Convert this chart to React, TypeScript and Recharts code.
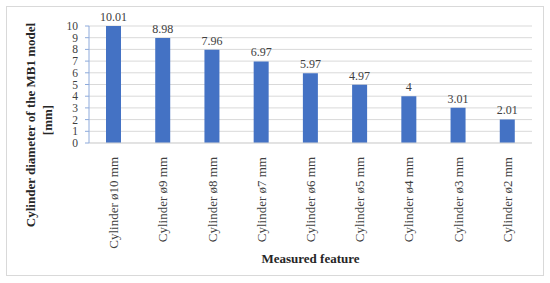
import { BarChart, Bar, XAxis, YAxis, CartesianGrid, LabelList, Label } from 'recharts';

const categories = [
    'Cylinder ø10 mm',
    'Cylinder ø9 mm',
    'Cylinder ø8 mm',
    'Cylinder ø7 mm',
    'Cylinder ø6 mm',
    'Cylinder ø5 mm',
    'Cylinder ø4 mm',
    'Cylinder ø3 mm',
    'Cylinder ø2 mm',
];
const diameters = [10.01, 8.98, 7.96, 6.97, 5.97, 4.97, 4, 3.01, 2.01];
const yTicks = [0, 1, 2, 3, 4, 5, 6, 7, 8, 9, 10];

const FONT = '"Liberation Serif", "DejaVu Serif", serif';

const data = categories.map((name, i) => ({ name, value: diameters[i] }));

// rotated category labels, reading bottom to top
const XTick = ({ x, y, payload }: any) => (
    <text
        x={x}
        y={y + 6}
        transform={`rotate(-90, ${x}, ${y + 6})`}
        textAnchor="end"
        dy="0.35em"
        fontFamily={FONT}
        fontSize={13}
        fill="#404040"
    >
        {payload.value}
    </text>
);

const YTitle = () => (
    <g fontFamily={FONT} fontSize={13} fontWeight="bold" fill="#262626">
        <text x={30} y={125} transform="rotate(-90, 30, 125)" textAnchor="middle" dy="0.35em">
            Cylinder diameter of the MB1 model
        </text>
        <text x={47} y={120} transform="rotate(-90, 47, 120)" textAnchor="middle" dy="0.35em">
            [mm]
        </text>
    </g>
);

export default function App() {
    return (
        <div style={{ position: 'absolute', left: 0, top: 0, width: 550, height: 283, background: '#fff' }}>
            <div
                style={{
                    position: 'absolute',
                    left: 6,
                    top: 6,
                    width: 536,
                    height: 268,
                    border: '1px solid #d9d9d9',
                }}
            />
            <div style={{ position: 'absolute', left: 0, top: 0 }}>
                <BarChart
                    width={550}
                    height={283}
                    data={data}
                    margin={{ top: 26, right: 18, left: 0, bottom: 0 }}
                    barCategoryGap="35%"
                >
                    <CartesianGrid stroke="#d9d9d9" vertical={false} />
                    <XAxis
                        dataKey="name"
                        height={140}
                        interval={0}
                        tickLine={false}
                        axisLine={{ stroke: '#d9d9d9' }}
                        tick={<XTick />}
                    >
                        <Label
                            value="Measured feature"
                            position="insideBottom"
                            offset={20}
                            style={{ fontFamily: FONT, fontSize: 13, fontWeight: 'bold', fill: '#262626' }}
                        />
                    </XAxis>
                    <YAxis
                        width={89}
                        domain={[0, 10]}
                        ticks={yTicks}
                        allowDataOverflow
                        interval={0}
                        axisLine={{ stroke: '#8eaadb' }}
                        tickLine={{ stroke: '#8eaadb' }}
                        tickSize={4}
                        tickMargin={7}
                        tick={{ fontFamily: FONT, fontSize: 11.5, fill: '#404040' }}
                        label={<YTitle />}
                    />
                    <Bar dataKey="value" fill="#4472c4" barSize={15} isAnimationActive={false}>
                        <LabelList
                            dataKey="value"
                            position="top"
                            offset={5}
                            style={{ fontFamily: FONT, fontSize: 12, fill: '#404040' }}
                        />
                    </Bar>
                </BarChart>
            </div>
        </div>
    );
}
